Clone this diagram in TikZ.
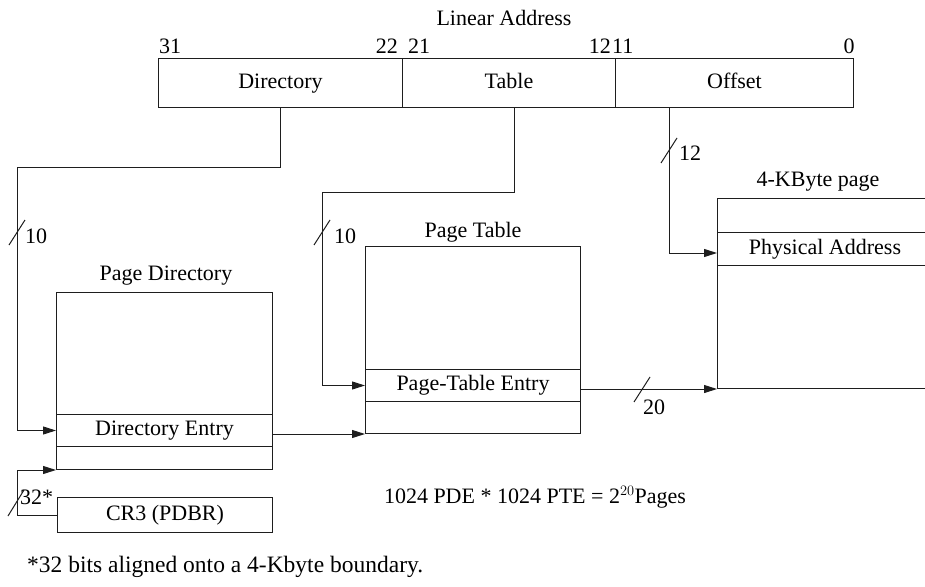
\documentclass[tikz,border=0pt]{standalone}
\usepackage{fontspec}
\setmainfont{Liberation Serif}
\usetikzlibrary{arrows.meta}
\definecolor{linec}{RGB}{30,30,30}
\begin{document}
\begin{tikzpicture}[x=1pt,y=-1pt,
  font=\fontsize{22}{26}\selectfont,
  box/.style={draw=linec, line width=1pt, inner sep=0pt, anchor=north west,
    text height=15pt, text depth=5pt},
  link/.style={draw=linec, line width=1pt},
  arr/.style={link, -{Triangle[length=13pt,width=8pt]}},
  slash/.style={draw=linec, line width=1pt},
  lbl/.style={inner sep=0pt}]
\clip (0,0) rectangle (925,586);

% linear address fields
\node[box, minimum width=244pt, minimum height=49pt] (dirf) at (158,58) {Directory};
\node[box, minimum width=213pt, minimum height=49pt] (tblf) at (402,58) {Table};
\node[box, minimum width=238pt, minimum height=49pt] (offf) at (615,58) {Offset};
\node[lbl] (la) at (504,18) {Linear Address};
\node[lbl, anchor=west] (b31) at (159,46) {31};
\node[lbl, anchor=east] (b22) at (398,46) {22};
\node[lbl, anchor=west] (b21) at (408,46) {21};
\node[lbl, anchor=east] (b12) at (611,46) {12};
\node[lbl, anchor=west] (b11) at (612,46) {11};
\node[lbl] (b0) at (849,46) {0};

% page directory
\node[lbl] (pdt) at (166,276) {Page Directory};
\node[box, minimum width=216pt, minimum height=122pt] (pdtop) at (56,292) {};
\node[box, minimum width=216pt, minimum height=32pt] (pde) at (56,414) {Directory Entry};
\node[box, minimum width=216pt, minimum height=23pt] (pdbot) at (56,446) {};

% CR3
\node[box, minimum width=215pt, minimum height=35pt] (cr3) at (57,497) {CR3 (PDBR)};

% page table
\node[lbl] (ptt) at (473,232) {Page Table};
\node[box, minimum width=215pt, minimum height=123pt] (pttop) at (365,246) {};
\node[box, minimum width=215pt, minimum height=32pt] (pte) at (365,369) {Page-Table Entry};
\node[box, minimum width=215pt, minimum height=32pt] (ptbot) at (365,401) {};

% 4-KByte page
\node[lbl] (pgt) at (818,182) {4-KByte page};
\node[box, minimum width=215pt, minimum height=34pt] (pgtop) at (717,198) {};
\node[box, minimum width=215pt, minimum height=33pt] (pa) at (717,232) {Physical Address};
\node[box, minimum width=215pt, minimum height=123pt] (pgbot) at (717,265) {};

% connectors
\draw[arr] (dirf.south) |- (17,167) |- (pde.west);
\draw[arr] ([xshift=5.5pt]tblf.south) |- (322,192) |- (pte.west);
\draw[arr] ([xshift=-65pt]offf.south) |- ([yshift=-4pt]pa.west);
\draw[arr] (pte.east |- pgbot.south west) -- (pgbot.south west);
\draw[arr] (pde.east |- ptbot.south west) -- (ptbot.south west);
\draw[arr] (cr3.west) -- ++(-40,0) |- (pdbot.south west);

% bus widths
\draw[slash] (9,245) -- (25,220);
\node[lbl, anchor=west] (w10a) at (25,236) {10};
\draw[slash] (314,245) -- (330,220);
\node[lbl, anchor=west] (w10b) at (334,236) {10};
\draw[slash] (661,163) -- (677,138);
\node[lbl, anchor=west] (w12) at (679,153) {12};
\draw[slash] (634,402) -- (650,377);
\node[lbl, anchor=west] (w20) at (643,407) {20};
\draw[slash] (8,516) -- (24,490);
\node[lbl, anchor=west] (w32) at (20,497) {32*};

% notes
\node[lbl] (cnt) at (535,497) {1024 PDE * 1024 PTE = 2$^{20}$Pages};
\node[lbl, anchor=west, font=\fontsize{23.5}{28}\selectfont] (fn) at (27,567) {*32 bits aligned onto a 4-Kbyte boundary.};
\end{tikzpicture}
\end{document}
